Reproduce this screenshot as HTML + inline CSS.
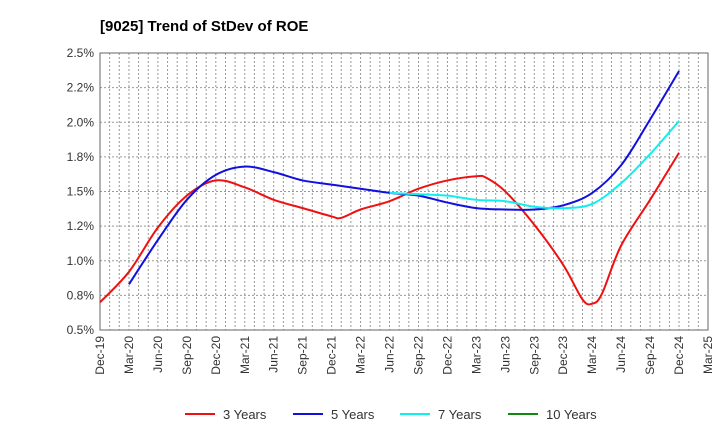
<!DOCTYPE html>
<html><head><meta charset="utf-8">
<style>
body{margin:0;background:#fff;font-family:"Liberation Sans",sans-serif;}
svg text{font-family:"Liberation Sans",sans-serif;}
</style></head><body>
<svg width="720" height="440" xmlns="http://www.w3.org/2000/svg">
<text x="100" y="31" font-size="15" font-weight="bold" fill="#000">[9025]  Trend of StDev of ROE</text>
<g id="grid"></g>
<g id="axes"></g>
<g id="series"></g>
<g id="legend"></g>
</svg>
<script>
const xTickLabels=["Dec-19","Mar-20","Jun-20","Sep-20","Dec-20","Mar-21","Jun-21","Sep-21","Dec-21","Mar-22","Jun-22","Sep-22","Dec-22","Mar-23","Jun-23","Sep-23","Dec-23","Mar-24","Jun-24","Sep-24","Dec-24","Mar-25"];
const yTickValues=[0.5,0.75,1.0,1.25,1.5,1.75,2.0,2.25,2.5];
const yTickLabels=["0.5%","0.8%","1.0%","1.2%","1.5%","1.8%","2.0%","2.2%","2.5%"];
// month index from Dec-19 (quarterly points)
const months3=[0,3,6,9,12,15,18,21,24,25,27,30,33,36,39,40,42,45,48,50,51,52,54,57,60];
const values3=[0.70,0.92,1.24,1.47,1.58,1.53,1.44,1.38,1.32,1.31,1.37,1.43,1.52,1.58,1.61,1.60,1.50,1.26,0.97,0.72,0.69,0.76,1.11,1.44,1.78];
const months5=[3,6,9,12,15,18,21,24,27,30,33,36,39,42,45,48,51,54,57,60];
const values5=[0.83,1.15,1.44,1.62,1.68,1.64,1.58,1.55,1.52,1.49,1.47,1.42,1.38,1.37,1.37,1.40,1.49,1.69,2.02,2.37];
const months7=[30,33,36,39,42,45,48,51,54,57,60];
const values7=[1.49,1.48,1.47,1.44,1.43,1.39,1.38,1.41,1.56,1.77,2.01];
const months10=[];
const values10=[];
const L=100,R=708,T=53,B=330;
const xs=m=>L+m*(R-L)/63;
const ys=v=>B-(v-0.5)*(B-T)/2.0;
const NS="http://www.w3.org/2000/svg";
function mk(tag,attrs,parent){const e=document.createElementNS(NS,tag);for(const k in attrs)e.setAttribute(k,attrs[k]);parent.appendChild(e);return e;}
const grid=document.getElementById('grid'),axes=document.getElementById('axes'),series=document.getElementById('series'),legend=document.getElementById('legend');
for(let m=1;m<63;m++){const l=mk('line',{x1:xs(m),x2:xs(m),y1:T,y2:B,stroke:'#999','stroke-dasharray':'2,2','stroke-width':1},grid);

}
yTickValues.forEach((v,i)=>{if(i>0&&i<yTickValues.length-1){const l=mk('line',{x1:L,x2:R,y1:ys(v),y2:ys(v),stroke:'#999','stroke-dasharray':'2,2'},grid);

}
const t=mk('text',{x:L-6,y:ys(v)+4,'text-anchor':'end','font-size':12,fill:'#333'},axes);t.textContent=yTickLabels[i];

});
const fr=mk('rect',{x:L,y:T,width:R-L,height:B-T,fill:'none',stroke:'#666'},axes);


xTickLabels.forEach((s,i)=>{const x=xs(i*3);const t=mk('text',{transform:`translate(${x+4},${B+6}) rotate(-90)`,'text-anchor':'end','font-size':12,fill:'#333'},axes);t.textContent=s;

});
function path(ms,vs){const p=ms.map((m,i)=>[xs(m),ys(vs[i])]);if(!p.length)return '';let d=`M${p[0][0]},${p[0][1]}`;
for(let i=0;i<p.length-1;i++){const p0=p[i-1]||p[i],p1=p[i],p2=p[i+1],p3=p[i+2]||p2;
d+=` C${p1[0]+(p2[0]-p0[0])/6},${p1[1]+(p2[1]-p0[1])/6} ${p2[0]-(p3[0]-p1[0])/6},${p2[1]-(p3[1]-p1[1])/6} ${p2[0]},${p2[1]}`;}return d;}
const defs=[["3 Years",months3,values3,"#ee1111","line-3-years"],["5 Years",months5,values5,"#1111dd","line-5-years"],["7 Years",months7,values7,"#11eeee","line-7-years"],["10 Years",months10,values10,"#118811","line-10-years"]];
defs.forEach((d,i)=>{if(d[1].length){const p=mk('path',{d:path(d[1],d[2]),fill:'none',stroke:d[3],'stroke-width':2},series);

}
const lx=[185,293,400,508][i];
const g=mk('g',{},legend);


mk('line',{x1:lx,x2:lx+30,y1:414,y2:414,stroke:d[3],'stroke-width':2},g);
const t=mk('text',{x:lx+38,y:419,'font-size':13,fill:'#333'},g);t.textContent=d[0];});
</script>
</body></html>
